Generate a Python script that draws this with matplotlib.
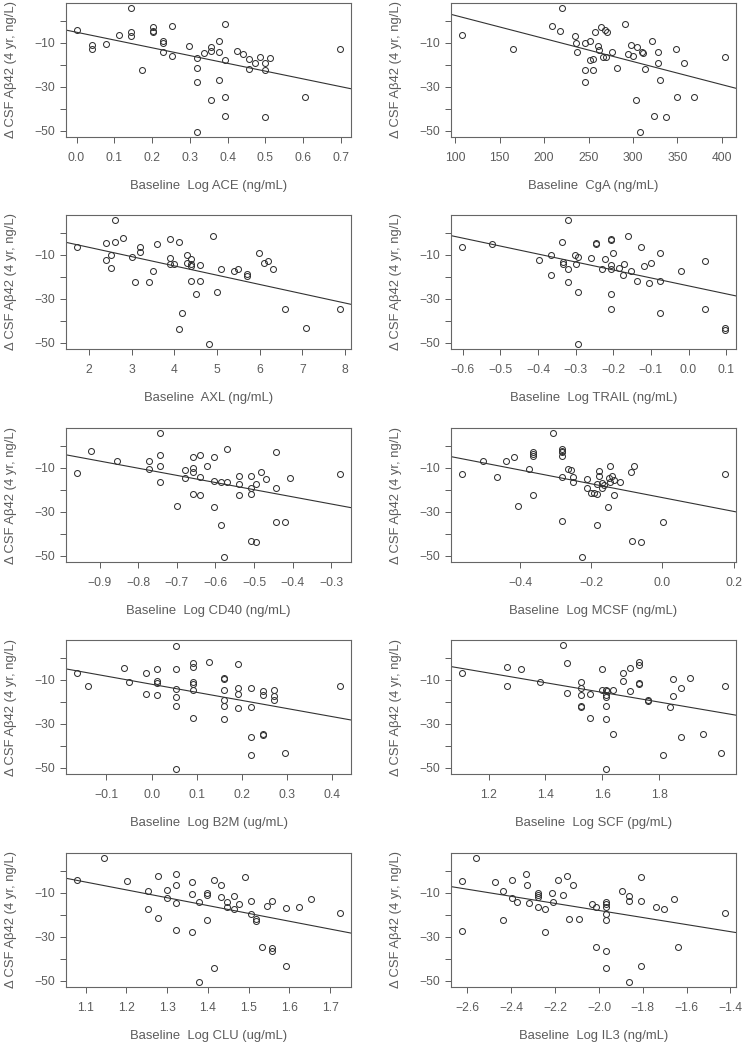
import numpy as np
import matplotlib
matplotlib.use("Agg")
from matplotlib import pyplot as plt

# change in CSF Abeta42 over 4 years vs baseline plasma markers
ace_x = [0.0, 0.042, 0.042, 0.079, 0.112, 0.145, 0.145, 0.145, 0.174, 0.202, 0.202, 0.202,
         0.228, 0.228, 0.228, 0.253, 0.253, 0.298, 0.318, 0.318, 0.318, 0.318, 0.338, 0.357,
         0.357, 0.357, 0.376, 0.376, 0.376, 0.394, 0.394, 0.394, 0.394, 0.426, 0.442, 0.456,
         0.456, 0.472, 0.486, 0.500, 0.500, 0.500, 0.513, 0.605, 0.699]
ace_y = [-4.4, -10.8, -12.9, -10.5, -6.4, 5.8, -5.2, -6.7, -22.3, -3.0, -4.5, -5.3,
         -9.4, -10.3, -14.4, -2.3, -16.2, -11.5, -16.8, -21.7, -27.9, -50.6, -14.5, -36.1,
         -11.8, -13.6, -9.1, -14.4, -27.1, -1.5, -17.7, -34.5, -43.3, -13.8, -15.0, -17.4,
         -22.0, -19.4, -16.4, -19.4, -22.4, -43.9, -16.8, -34.5, -12.9]

cga_x = [107, 165, 209, 220, 218, 235, 236, 237, 246, 246, 246, 251, 251, 255, 255, 257,
         261, 262, 264, 266, 269, 271, 270, 276, 282, 291, 294, 298, 300, 303, 304, 308,
         310, 311, 313, 321, 324, 328, 328, 330, 337, 348, 349, 357, 369, 404]
cga_y = [-6.4, -12.7, -2.3, 5.8, -4.5, -6.7, -10.3, -14.4, -10.3, -27.7, -22.3, -9.4,
         -17.9, -17.4, -22.3, -5.0, -11.5, -13.5, -3.0, -16.4, -4.4, -5.0, -16.4, -14.4,
         -21.7, -1.5, -15.0, -10.9, -16.1, -36.1, -12.0, -50.6, -14.1, -14.5, -22.0, -9.1,
         -43.3, -19.2, -14.4, -27.1, -43.9, -12.9, -34.5, -19.4, -34.5, -16.5]

axl_x = [1.71, 2.41, 2.41, 2.51, 2.51, 2.60, 2.60, 2.80, 3.00, 3.09, 3.20, 3.20, 3.40,
         3.50, 3.60, 3.90, 3.90, 3.90, 4.00, 4.10, 4.10, 4.19, 4.29, 4.29, 4.39, 4.39,
         4.39, 4.39, 4.50, 4.60, 4.60, 4.80, 4.90, 5.00, 5.10, 5.40, 5.49, 5.70, 5.70,
         5.99, 6.10, 6.20, 6.30, 6.59, 7.09, 7.89]
axl_y = [-6.5, -4.8, -12.6, -10.0, -16.1, 5.7, -4.4, -2.2, -10.8, -22.4, -6.5, -8.9,
         -22.4, -17.6, -5.0, -2.8, -11.4, -14.0, -14.3, -4.2, -44.0, -36.3, -10.3, -13.7,
         -11.8, -14.0, -15.2, -21.8, -27.9, -14.6, -21.8, -50.8, -1.3, -27.1, -16.7, -17.3,
         -16.4, -18.9, -19.5, -9.1, -13.8, -12.7, -16.7, -34.6, -43.4, -34.7]

trail_x = [-0.603, -0.523, -0.397, -0.366, -0.366, -0.336, -0.333, -0.333, -0.320, -0.319,
           -0.320, -0.301, -0.300, -0.293, -0.293, -0.293, -0.260, -0.245, -0.245, -0.230,
           -0.221, -0.207, -0.207, -0.207, -0.207, -0.207, -0.207, -0.200, -0.185, -0.174,
           -0.172, -0.160, -0.152, -0.136, -0.125, -0.119, -0.106, -0.101, -0.075, -0.075,
           -0.075, -0.021, 0.043, 0.043, 0.098, 0.098]
trail_y = [-6.5, -5.0, -12.6, -10.3, -19.3, -4.2, -13.4, -14.4, 5.7, -16.7,
           -22.2, -10.3, -14.4, -10.9, -27.1, -50.8, -11.4, -4.5, -5.0, -16.3,
           -11.8, -2.7, -3.3, -14.7, -16.7, -27.9, -34.7, -9.1, -16.1, -19.3,
           -14.4, -1.3, -17.6, -21.9, -6.5, -15.2, -22.7, -13.8, -9.1, -21.8,
           -36.3, -17.3, -12.7, -34.7, -43.4, -44.2]

cd40_x = [-0.960, -0.922, -0.856, -0.771, -0.771, -0.745, -0.745, -0.745, -0.745, -0.699,
          -0.680, -0.678, -0.659, -0.659, -0.659, -0.659, -0.639, -0.639, -0.639, -0.621,
          -0.603, -0.603, -0.603, -0.586, -0.586, -0.577, -0.569, -0.569, -0.538, -0.538,
          -0.538, -0.509, -0.509, -0.509, -0.509, -0.495, -0.495, -0.482, -0.469, -0.444,
          -0.444, -0.444, -0.420, -0.408, -0.276]
cd40_y = [-12.6, -2.4, -6.7, -6.7, -10.6, 5.6, -4.4, -9.1, -16.5, -27.3,
          -11.1, -14.5, -5.2, -10.3, -11.8, -21.8, -4.4, -14.4, -22.4, -9.4,
          -5.0, -16.1, -27.9, -16.7, -36.2, -50.6, -1.5, -16.7, -13.8, -17.6,
          -22.4, -13.8, -19.4, -21.8, -43.2, -43.8, -17.3, -12.0, -15.2, -3.0,
          -19.2, -34.5, -34.5, -14.7, -12.7]

mcsf_x = [-0.564, -0.504, -0.464, -0.439, -0.417, -0.406, -0.374, -0.364, -0.364, -0.364,
          -0.364, -0.307, -0.282, -0.282, -0.282, -0.282, -0.281, -0.282, -0.266, -0.256,
          -0.250, -0.250, -0.227, -0.213, -0.212, -0.200, -0.193, -0.184, -0.184, -0.184,
          -0.178, -0.178, -0.169, -0.169, -0.163, -0.152, -0.150, -0.147, -0.147, -0.141,
          -0.136, -0.135, -0.118, -0.089, -0.085, -0.079, -0.059, 0.001, 0.177]
mcsf_y = [-12.7, -6.7, -14.4, -6.7, -5.0, -27.3, -10.5, -2.9, -3.8, -4.5,
          -22.4, 5.6, -1.4, -2.2, -2.9, -4.7, -14.4, -34.4, -10.5, -11.1,
          -14.4, -16.5, -50.6, -15.0, -19.4, -21.7, -21.7, -17.4, -21.8, -36.2,
          -11.5, -13.6, -17.1, -19.4, -18.0, -27.7, -14.8, -9.1, -16.5, -13.6,
          -15.5, -22.4, -16.5, -11.8, -43.3, -9.2, -43.9, -34.5, -12.7]

b2m_x = [-0.166, -0.140, -0.061, -0.050, -0.012, -0.012, 0.011, 0.011, 0.011, 0.011,
         0.054, 0.054, 0.054, 0.054, 0.054, 0.054, 0.092, 0.092, 0.092, 0.092, 0.092,
         0.092, 0.128, 0.161, 0.161, 0.161, 0.161, 0.161, 0.161, 0.191, 0.191, 0.191,
         0.191, 0.220, 0.220, 0.220, 0.220, 0.247, 0.247, 0.247, 0.247, 0.272, 0.272,
         0.272, 0.296, 0.418]
b2m_y = [-6.7, -12.7, -4.7, -10.8, -6.8, -16.5, -5.2, -10.5, -11.5, -17.0,
         5.5, -5.3, -14.4, -17.7, -21.8, -50.8, -2.4, -4.2, -11.1, -12.0, -14.5,
         -27.3, -1.7, -9.2, -9.7, -14.7, -19.4, -21.8, -28.0, -3.0, -13.9, -16.4,
         -22.7, -13.8, -22.4, -36.2, -44.1, -15.3, -16.8, -34.7, -35.2, -14.7, -17.6,
         -19.2, -43.5, -12.9]

scf_x = [1.105, 1.264, 1.264, 1.315, 1.382, 1.460, 1.477, 1.477, 1.526, 1.526, 1.526,
         1.526, 1.526, 1.558, 1.558, 1.599, 1.599, 1.612, 1.614, 1.614, 1.614, 1.614,
         1.614, 1.616, 1.639, 1.639, 1.674, 1.674, 1.696, 1.697, 1.729, 1.729, 1.729,
         1.729, 1.759, 1.759, 1.814, 1.837, 1.847, 1.847, 1.877, 1.877, 1.908, 1.954,
         2.019, 2.033]
scf_y = [-6.7, -4.4, -12.7, -5.2, -11.2, 5.6, -2.4, -16.2, -10.8, -13.8, -17.0,
         -22.0, -22.6, -16.7, -27.3, -5.2, -14.5, -14.7, -16.8, -17.9, -21.8, -27.9,
         -50.8, -15.0, -14.5, -34.5, -6.7, -10.5, -15.3, -4.5, -1.7, -3.2, -11.5,
         -12.0, -19.2, -19.5, -44.1, -22.6, -9.5, -17.4, -13.9, -36.2, -9.2, -34.7,
         -43.5, -12.9]

clu_x = [1.078, 1.145, 1.202, 1.254, 1.254, 1.278, 1.278, 1.300, 1.300, 1.321, 1.321,
         1.321, 1.321, 1.361, 1.361, 1.361, 1.379, 1.379, 1.398, 1.398, 1.398, 1.415,
         1.415, 1.431, 1.431, 1.447, 1.447, 1.463, 1.463, 1.477, 1.491, 1.505, 1.505,
         1.518, 1.518, 1.532, 1.544, 1.557, 1.557, 1.557, 1.591, 1.591, 1.624, 1.654,
         1.725]
clu_y = [-4.4, 5.9, -4.8, -9.2, -17.6, -2.2, -21.6, -8.8, -12.6, -1.3, -6.3,
         -14.6, -27.1, -5.0, -10.5, -27.9, -14.3, -50.8, -10.3, -10.9, -22.4, -4.0,
         -44.2, -6.6, -11.8, -14.3, -16.3, -11.4, -17.2, -15.2, -3.0, -13.8, -19.5,
         -21.9, -22.7, -34.6, -16.1, -13.7, -35.0, -36.3, -16.9, -43.4, -16.6, -12.7,
         -19.2]

il3_x = [-2.627, -2.627, -2.559, -2.474, -2.438, -2.438, -2.395, -2.395, -2.374, -2.334,
         -2.327, -2.319, -2.277, -2.277, -2.277, -2.277, -2.245, -2.245, -2.216, -2.208,
         -2.188, -2.164, -2.146, -2.135, -2.119, -2.090, -2.034, -2.015, -2.015, -1.967,
         -1.967, -1.967, -1.967, -1.967, -1.967, -1.967, -1.897, -1.865, -1.865, -1.865,
         -1.809, -1.809, -1.809, -1.739, -1.705, -1.657, -1.639, -1.423]
il3_y = [-4.8, -27.3, 5.9, -5.0, -9.2, -22.4, -4.0, -12.6, -14.4, -1.3,
         -6.6, -14.7, -10.3, -11.2, -12.1, -16.7, -17.6, -27.9, -10.3, -14.4,
         -4.4, -10.9, -2.2, -21.9, -6.3, -21.9, -15.3, -16.6, -34.6, -14.3,
         -15.0, -16.4, -19.6, -22.5, -36.3, -44.2, -9.1, -11.4, -13.8, -50.8,
         -3.0, -13.7, -43.4, -16.6, -17.3, -12.7, -34.7, -19.2]

xlabels = ["Baseline  Log ACE (ng/mL)", "Baseline  CgA (ng/mL)",
           "Baseline  AXL (ng/mL)", "Baseline  Log TRAIL (ng/mL)",
           "Baseline  Log CD40 (ng/mL)", "Baseline  Log MCSF (ng/mL)",
           "Baseline  Log B2M (ug/mL)", "Baseline  Log SCF (pg/mL)",
           "Baseline  Log CLU (ug/mL)", "Baseline  Log IL3 (ng/mL)"]
xticks = [[0.0, 0.1, 0.2, 0.3, 0.4, 0.5, 0.6, 0.7],
          [100, 150, 200, 250, 300, 350, 400],
          [2, 3, 4, 5, 6, 7, 8],
          [-0.6, -0.5, -0.4, -0.3, -0.2, -0.1, 0.0, 0.1],
          [-0.9, -0.8, -0.7, -0.6, -0.5, -0.4, -0.3],
          [-0.4, -0.2, 0.0, 0.2],
          [-0.1, 0.0, 0.1, 0.2, 0.3, 0.4],
          [1.2, 1.4, 1.6, 1.8],
          [1.1, 1.2, 1.3, 1.4, 1.5, 1.6, 1.7],
          [-2.6, -2.4, -2.2, -2.0, -1.8, -1.6, -1.4]]
ylabel = "\u0394 CSF A\u03b242 (4 yr, ng/L)"

panels = [(ace_x, ace_y), (cga_x, cga_y), (axl_x, axl_y), (trail_x, trail_y),
          (cd40_x, cd40_y), (mcsf_x, mcsf_y), (b2m_x, b2m_y), (scf_x, scf_y),
          (clu_x, clu_y), (il3_x, il3_y)]

plt.rcParams['font.family'] = ['Liberation Sans', 'DejaVu Sans']
grey = '#5c5c5c'
W, H = 743, 1043
fig = plt.figure(figsize=(W / 100, H / 100), dpi=100)

col_left = [66, 451]
row_top = [3, 215, 428, 640, 853]
aw, ah = 285, 134


def fmt_tick(v, decimals):
    s = ('%.1f' % v) if decimals else ('%d' % v)
    return s.replace('-', '\u2212')


for i, (xs, ys) in enumerate(panels):
    r, c = divmod(i, 2)
    ax = fig.add_axes([col_left[c] / W, 1 - (row_top[r] + ah) / H, aw / W, ah / H])
    xs = np.array(xs, dtype=float)
    ys = np.array(ys, dtype=float)
    ax.plot(xs, ys, 'o', mfc='none', mec='#333333', ms=4.3, mew=0.75)
    # R-style 4% padding
    xr = xs.max() - xs.min()
    xlo, xhi = xs.min() - 0.04 * xr, xs.max() + 0.04 * xr
    ax.set_xlim(xlo, xhi)
    ax.set_ylim(-52.9, 8.1)
    # least squares line
    b, a = np.polyfit(xs, ys, 1)
    lx = np.array([xlo, xhi])
    ax.plot(lx, a + b * lx, color='#333333', lw=0.8)
    ax.set_yticks([-50, -40, -30, -20, -10, 0])
    ax.set_yticklabels(['\u221250', '', '\u221230', '', '\u221210', ''])
    dec = any(isinstance(v, float) for v in xticks[i])
    ax.set_xticks(xticks[i])
    ax.set_xticklabels([fmt_tick(v, dec) for v in xticks[i]])
    ax.tick_params(colors=grey, labelsize=8.7, length=4, width=0.7)
    ax.tick_params(axis='x', pad=7)
    ax.tick_params(axis='y', pad=4)
    for s in ax.spines.values():
        s.set_color('#666666')
        s.set_linewidth(0.8)
    ax.set_xlabel(xlabels[i], color=grey, fontsize=9.4, labelpad=11)
    ax.set_ylabel(ylabel, color=grey, fontsize=9.4, labelpad=12)

fig.savefig("out.png", dpi=100)
